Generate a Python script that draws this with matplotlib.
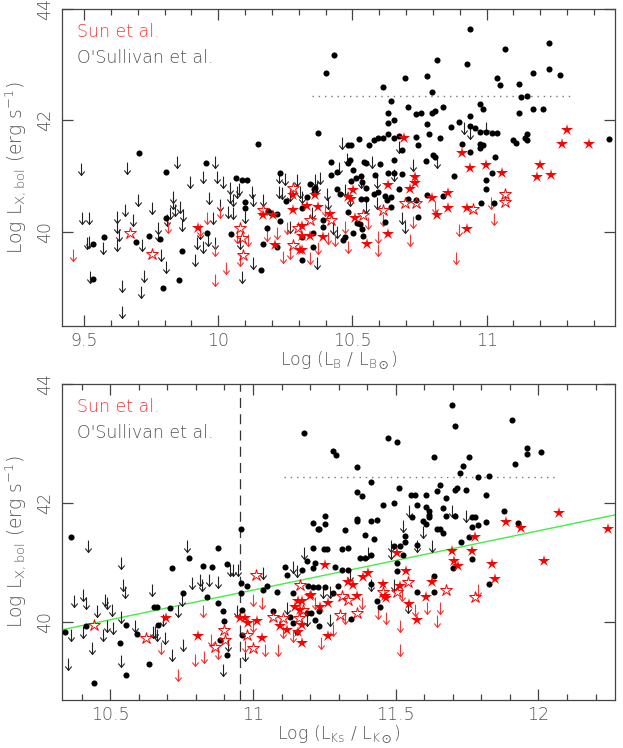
import matplotlib
matplotlib.use("Agg")
import matplotlib.pyplot as plt
from matplotlib.path import Path
from matplotlib.ticker import MultipleLocator, FormatStrFormatter
import numpy as np

# ---------------- data: top panel (Log L_B) ----------------
top_osul_det = [
 (9.704,41.42),(9.804,41.07),(9.955,41.24),(10.147,41.57),(10.23,41.05),(10.067,40.96),(10.106,40.93),
 (10.938,43.65),(10.431,43.17),(10.401,42.86),(11.069,43.29),(11.231,43.39),(10.815,43.09),(10.927,43.01),
 (10.694,42.77),(10.776,42.80),(10.614,42.60),(11.038,42.76),(11.048,42.63),(11.12,42.65),(11.171,42.85),
 (11.231,42.93),(11.272,42.82),(10.796,42.51),(11.129,42.43),(11.15,42.44),(10.645,42.35),(10.706,42.25),
 (10.633,42.14),(10.736,42.12),(10.755,42.14),(10.797,42.14),(10.806,42.17),(10.836,42.25),(10.977,42.30),
 (10.987,42.21),(11.12,42.14),(11.171,42.21),(11.21,42.21),(10.373,41.78),(10.633,41.96),(10.655,42.01),
 (10.776,41.94),(10.867,41.89),(10.898,41.97),(10.938,42.08),(10.938,41.90),(10.957,41.86),(10.977,41.80),
 (10.996,41.80),(11.019,41.77),(11.039,41.77),(11.15,41.76),(11.144,41.68),(11.098,41.64),(11.109,41.60),
 (11.151,41.64),(11.454,41.67),(10.786,41.75),(10.735,41.71),(10.632,41.76),(10.614,41.69),(10.655,41.69),
 (10.674,41.72),(10.594,41.69),(10.581,41.65),(10.523,41.66),(10.482,41.55),(10.493,41.55),(10.563,41.55),
 (10.745,41.56),(10.826,41.69),(10.908,41.57),(10.938,41.44),(10.977,41.58),(10.987,41.56),(10.977,41.50),
 (10.683,41.46),(10.80,41.38),(10.806,41.34),(10.775,41.27),(11.03,41.34),(10.655,41.29),(10.422,41.25),
 (10.49,41.28),(10.482,41.23),(10.542,41.25),(10.55,41.23),(10.604,41.22),(10.441,41.07),(10.421,41.01),
 (10.503,41.11),(10.584,41.02),(10.633,41.06),(10.655,41.06),(10.686,41.03),(10.877,41.0),(11.019,41.06),
 (10.533,41.0),(10.513,40.97),
 (10.674,40.76),(10.329,40.63),(10.357,40.77),(10.355,40.69),(10.441,40.77),(10.453,40.67),(10.493,40.91),
 (10.536,40.90),(10.552,40.79),(10.581,40.67),(10.594,40.72),(10.533,40.59),(10.552,40.59),(10.482,40.35),
 (10.623,40.64),(10.644,40.63),(10.627,40.57),(10.644,40.44),(10.623,40.18),(10.706,40.58),(10.735,40.56),
 (10.745,40.27),(10.776,40.66),(10.836,40.64),(10.979,40.51),(10.996,40.77),(10.998,40.93),(11.028,40.51),
 (10.391,40.21),(10.391,40.08),(10.352,39.73),(10.311,39.49),(10.311,39.90),(10.463,39.85),(10.472,39.90),
 (10.503,39.98),(10.518,40.16),(10.528,40.13),(10.534,40.05),(10.54,39.92),
 (10.087,40.92),(10.1,40.54),(10.1,40.42),(10.186,40.37),(10.196,40.33),(10.218,40.31),(10.23,40.19),
 (10.251,40.55),(10.342,40.85),(10.36,40.78),(10.311,40.42),(10.354,39.98),(10.218,39.73),(10.168,39.78),
 (10.18,40.07),(10.159,39.30),(10.047,39.95),(9.957,39.97),(9.864,39.65),(9.855,39.13),(9.794,38.99),
 (9.804,40.24),(9.784,39.86),(9.743,39.92),(9.694,39.81),(9.573,39.90),(9.532,39.77),(9.532,39.14)]

top_osul_ul = [
 (9.49,41.12),(9.661,41.14),(9.845,41.26),(9.988,41.25),(9.895,40.90),(9.944,40.98),(9.996,40.98),
 (10.019,40.90),(10.043,40.78),(10.069,40.72),(10.078,40.76),(10.124,40.72),(9.967,40.60),(10.043,40.63),
 (10.056,40.57),(10.006,40.48),(10.035,40.36),(10.056,40.33),(10.1,40.27),(10.131,40.57),(10.168,40.57),
 (9.981,40.24),(10.227,40.99),(10.227,40.72),(10.236,40.69),(10.249,40.94),(10.267,40.66),(10.292,40.93),
 (10.304,40.72),(10.367,40.81),(10.367,39.43),(10.267,40.09),(10.131,39.43),(10.09,39.19),(10.081,39.79),
 (9.932,39.97),(9.92,39.79),(9.913,39.49),(9.944,39.73),(9.963,39.85),(9.988,39.79),(9.867,40.30),
 (9.864,40.12),(9.833,40.63),(9.833,40.51),(9.839,40.39),(9.82,40.33),(9.857,40.45),(9.811,40.21),
 (9.777,40.06),(9.777,39.94),(9.787,39.58),(9.804,39.37),(9.754,40.42),(9.701,40.57),(9.684,40.21),
 (9.715,39.76),(9.724,39.20),(9.713,38.92),(9.643,39.02),(9.643,38.56),(9.622,40.27),(9.622,40.09),
 (9.622,39.76),(9.631,39.94),(9.654,40.39),(9.491,40.24),(9.52,40.24),(9.512,39.79),(9.52,39.82),
 (9.522,39.19),(9.572,39.70),
 (10.462,41.59),(10.916,41.87),(10.938,41.77),(10.999,41.87),(10.672,41.53),(10.573,41.26),(10.814,41.25),
 (10.724,41.19),(10.45,41.15),(10.478,41.31),(10.379,40.96),(10.36,40.93),(10.655,41.02),(10.592,40.90),
 (10.532,40.90),(10.404,40.67),(10.41,40.51),(10.472,40.75),(10.49,40.57),(10.552,40.45),(10.592,40.51),
 (10.683,40.24),(10.695,40.08),(10.428,40.06),(10.441,40.0),(10.311,40.63),(10.35,40.33)]

top_sun_det = [
 (10.693,41.68),(10.908,41.42),(10.938,41.15),(10.997,41.20),(11.057,41.05),(11.198,41.20),(11.188,40.99),
 (11.24,41.01),(11.281,41.58),(11.301,41.82),(11.382,41.57),(10.734,40.99),(10.734,40.87),(10.633,40.84),
 (10.714,40.76),(10.503,40.75),(10.484,40.63),(10.493,40.59),(10.36,40.66),(10.37,40.45),(10.329,40.46),
 (10.416,40.32),(10.509,40.24),(10.795,40.61),(10.814,40.30),(10.857,40.69),(10.857,40.43),(10.925,40.43),
 (10.928,40.05),(10.633,39.95),(10.553,39.78),(10.391,39.90),(10.342,39.92),(10.311,39.92),(10.311,40.10),
 (10.311,39.67),(9.926,40.07),(10.168,40.30),(10.205,40.30),(10.28,40.39),(10.28,40.66),(10.211,39.76),
 (10.304,39.67)]

top_sun_open = [
 (9.671,39.98),(9.753,39.59),(10.081,40.06),(10.087,39.88),(10.093,39.58),(10.168,40.39),(10.28,40.78),
 (10.28,39.76),(10.298,40.06),(10.342,40.21),(10.422,40.21),(10.54,40.30),(10.615,40.39),(10.695,40.51),
 (10.736,40.51),(10.948,40.41),(11.07,40.67),(11.07,40.54)]

top_sun_ul = [
 (9.46,39.58),(9.814,40.09),(9.932,40.03),(9.957,40.24),(9.988,39.67),(10.006,40.36),(10.029,39.35),
 (9.988,39.13),(10.069,39.91),(10.112,39.85),(10.18,39.94),(10.218,39.97),(10.24,39.55),(10.255,40.06),
 (10.267,39.61),(10.342,39.52),(10.081,39.49),(10.373,39.70),(10.41,39.88),(10.435,39.85),(10.484,39.73),
 (10.559,40.15),(10.597,39.91),(10.597,39.67),(10.615,40.21),(10.714,39.85),(10.726,40.18),(10.807,40.45),
 (10.898,40.03),(10.886,39.52),(11.028,40.22),(11.018,40.51),(10.398,40.39),(10.472,40.09)]

# ---------------- data: bottom panel (Log L_Ks) ----------------
bot_osul_det = [
 (10.363,41.43),(10.878,41.24),(10.959,41.57),(11.18,43.18),(11.211,41.66),(11.229,41.57),(11.211,41.25),
 (10.777,41.08),(11.696,43.65),(11.706,43.30),(11.908,43.40),(11.474,43.10),(11.504,43.03),(11.281,42.87),
 (11.29,42.81),(11.363,42.61),(11.635,42.78),(11.756,42.77),(11.737,42.63),(11.726,42.51),(11.96,42.93),
 (11.96,42.83),(12.01,42.86),(11.919,42.66),(11.788,42.44),(11.827,42.45),(11.413,42.36),(11.363,42.18),
 (11.383,42.12),(11.513,42.26),(11.553,42.14),(11.567,42.14),(11.606,42.14),(11.655,42.30),(11.646,42.20),
 (11.676,42.08),(11.706,42.22),(11.715,42.25),(11.747,42.22),(11.818,42.14),(11.879,41.86),(11.929,41.67),
 (11.494,42.0),(11.455,41.96),(11.575,41.97),(11.606,41.94),(11.615,41.86),(11.615,41.80),(11.615,41.76),
 (11.666,41.92),(11.676,41.79),(11.706,41.79),(11.556,41.76),(11.595,41.69),(11.606,41.65),(11.767,41.77),
 (11.778,41.77),(11.767,41.60),(11.787,41.63),(11.818,41.68),(11.643,41.56),(11.655,41.56),(11.666,41.49),
 (11.758,41.43),(11.727,41.34),(11.768,41.06),(11.533,41.44),(11.533,41.34),(11.575,41.29),(11.495,41.27),
 (11.514,41.27),(11.524,41.12),(11.394,41.46),(11.424,41.39),(11.363,41.73),(11.363,41.69),(11.413,41.69),
 (11.434,41.71),(11.323,41.55),(11.251,41.78),(11.251,41.65),(11.232,41.56),(11.25,41.23),(11.26,41.23),
 (11.313,41.22),(11.333,41.24),(11.413,41.13),(11.375,41.08),(11.394,41.08),
 (11.827,40.64),(11.635,40.77),(11.635,40.50),(11.575,40.51),(11.503,40.85),(11.503,40.99),(11.435,40.36),
 (11.445,40.26),(11.342,40.05),(11.231,40.18),(11.231,39.94),(11.188,40.15),(11.299,40.60),(11.211,40.59),
 (11.229,40.59),(11.252,40.59),(11.17,40.88),(11.217,40.99),(11.287,40.93),(11.311,40.88),(11.334,40.88),
 (11.281,40.49),(11.412,40.64),(11.702,40.91),
 (10.342,39.84),(10.414,39.93),(10.444,38.97),(10.555,39.11),(10.535,39.65),(10.555,39.95),(10.595,39.80),
 (10.637,39.29),(10.653,40.26),(10.665,40.26),(10.668,39.95),(10.709,40.24),(10.715,40.91),(10.826,40.95),
 (10.855,40.93),(10.878,40.32),(10.838,40.42),(10.756,40.49),(10.91,40.98),(10.894,40.18),(10.898,40.01),
 (10.884,39.70),(10.908,39.45),(10.957,40.66),(10.957,40.49),(10.96,40.21),(10.96,39.79),(10.978,40.60),
 (11.036,40.54),(11.048,40.60),(11.083,40.51),(11.112,40.93),(11.12,40.79),(11.141,40.49),(11.194,40.60),
 (11.188,41.02),(11.211,40.91),(11.13,40.09),(11.141,39.98),(11.205,40.15),(11.217,40.04),(11.153,39.84),
 (11.071,40.18)]

bot_osul_ul = [
 (10.423,41.27),(10.768,41.27),(11.18,41.16),(11.404,41.16),(11.483,41.27),(11.483,41.16),(11.524,41.61),
 (11.546,41.86),(11.596,41.52),(11.627,41.27),(11.575,41.27),(11.696,41.86),(11.747,41.79),
 (10.373,40.36),(10.406,40.46),(10.415,40.32),(10.363,39.79),(10.353,39.29),(10.406,39.83),(10.435,39.56),
 (10.452,40.18),(10.482,40.37),(10.488,40.32),(10.474,39.79),(10.488,39.93),(10.505,40.21),(10.51,39.90),
 (10.537,40.09),(10.537,39.34),(10.537,40.99),(10.546,40.63),(10.552,40.51),(10.587,39.93),(10.645,40.54),
 (10.649,39.84),(10.657,39.84),(10.663,39.79),(10.684,40.04),(10.692,39.73),(10.715,39.45),(10.738,40.18),
 (10.75,40.37),(10.756,39.62),(10.785,40.66),(10.814,40.71),(10.82,40.63),(10.847,40.71),(10.878,40.68),
 (10.919,40.88),(10.931,40.88),(10.948,40.88),(10.896,39.20),(10.913,39.62),(10.943,40.18),(10.972,39.45),
 (11.036,40.82),(11.118,40.24),(11.141,40.93),(11.153,40.85),
 (11.19,40.04),(11.246,40.51),(11.27,40.51),(11.27,40.04),(11.34,40.79),(11.412,40.63),(11.495,40.63),
 (11.544,40.26)]

bot_sun_det = [
 (11.503,41.16),(11.696,41.19),(11.768,41.19),(11.777,41.43),(11.888,41.68),(11.939,41.58),(12.071,41.83),
 (12.242,41.57),(11.705,41.03),(12.02,41.02),
 (11.717,40.95),(11.838,40.97),(11.849,40.72),(11.626,40.68),(11.605,40.42),(11.545,40.31),(11.573,40.04),
 (11.536,40.85),(11.515,40.60),(11.454,40.64),(11.462,40.43),(11.466,40.40),(11.404,40.82),(11.384,40.76),
 (11.351,40.63),(11.334,40.68),(11.363,40.44),(11.264,40.32),(11.235,40.26),(11.2,40.43),(11.171,40.35),
 (11.171,39.95),(11.171,39.65),(11.264,39.77),(11.252,40.96),
 (10.694,40.06),(10.808,39.76),(10.954,40.07),(10.972,40.07),(10.984,39.98),(11.03,39.73),(11.095,39.93),
 (11.118,39.87),(11.147,40.26),(11.159,40.35),(11.165,40.21),(11.159,39.84),(11.205,40.46),(11.013,40.01)]

bot_sun_open = [
 (10.444,39.95),(10.624,39.74),(10.867,39.58),(10.898,39.87),(10.903,39.69),(11.01,40.79),(10.978,39.79),
 (11.001,39.56),(11.071,40.09),(11.104,40.07),(11.165,40.63),(11.162,40.07),(11.311,40.43),(11.334,40.37),
 (11.363,40.15),(11.305,40.12),(11.456,40.51),(11.503,40.51),(11.544,40.67),(11.675,40.53),(11.777,40.42),
 (11.176,40.21)]

bot_sun_ul = [
 (10.678,39.56),(10.738,39.11),(10.797,39.37),(10.828,39.42),(10.826,40.18),(10.852,39.70),(10.878,39.48),
 (10.972,39.59),(11.001,40.37),(11.03,40.32),(11.042,39.53),(11.089,39.53),(11.106,39.84),(11.141,39.76),
 (11.001,39.93),(11.515,39.53),(11.515,39.93),(11.439,40.15),(11.466,40.07),(11.608,40.24),(11.655,40.24),
 (11.646,40.01),(11.567,40.21),(11.521,40.46),(11.381,40.32),(11.322,40.07),(11.279,39.87),(11.24,39.65),
 (11.217,40.32),(11.789,40.54)]

# reference lines
top_xlim = (9.418, 11.478); top_ylim = (38.30, 44.0)
bot_xlim = (10.331, 12.268); bot_ylim = (38.69, 44.0)
top_hline = (10.35, 11.32, 42.44)
bot_hline = (11.11, 12.06, 42.44)
bot_vline = 10.955
fit_x = [10.331, 12.268]
fit_y = [39.87, 41.80]

# ---------------- plotting ----------------
TXT = '#555555'
SPINE = '#444444'
RED = '#ff0000'
plt.rcParams['font.family'] = ['DejaVu Sans']
plt.rcParams['font.weight'] = 'light'
plt.rcParams['axes.labelweight'] = 'light'
plt.rcParams['mathtext.fontset'] = 'custom'
plt.rcParams['mathtext.rm'] = 'DejaVu Sans:light'
plt.rcParams['mathtext.it'] = 'DejaVu Sans:light'
plt.rcParams['mathtext.bf'] = 'DejaVu Sans:light'
plt.rcParams['mathtext.default'] = 'regular'

arrow = Path([(0, 0.5), (0, -0.5), (-0.27, -0.17), (0, -0.5), (0.27, -0.17)],
             [Path.MOVETO, Path.LINETO, Path.MOVETO, Path.LINETO, Path.LINETO])

fig = plt.figure(figsize=(6.23, 7.48), dpi=100)
ax1 = fig.add_axes([0.0995, 0.5642, 0.8876, 0.4234])
ax2 = fig.add_axes([0.0995, 0.0642, 0.8876, 0.4224])

def xy(lst):
    a = np.array(lst)
    return a[:, 0], a[:, 1]

def draw(ax, det, ul, sdet, sopen, sul):
    x, y = xy(ul)
    ax.plot(x, y, ls='none', marker=arrow, ms=8.5, mfc='none', mec='#222222', mew=0.8, zorder=3)
    x, y = xy(sul)
    ax.plot(x, y, ls='none', marker=arrow, ms=8.5, mfc='none', mec='#ff3030', mew=0.8, zorder=3)
    x, y = xy(det)
    ax.plot(x, y, ls='none', marker='o', ms=4.4, mfc='black', mec='black', mew=0, zorder=4)
    x, y = xy(sopen)
    ax.plot(x, y, ls='none', marker='*', ms=9, mfc='none', mec=RED, mew=0.7, zorder=5)
    x, y = xy(sdet)
    ax.plot(x, y, ls='none', marker='*', ms=9, mfc=RED, mec=RED, mew=0, zorder=5)

def style(ax, xlim, ylim, xlabel):
    ax.set_xlim(*xlim); ax.set_ylim(*ylim)
    ax.xaxis.set_major_locator(MultipleLocator(0.5))
    ax.xaxis.set_minor_locator(MultipleLocator(0.1))
    ax.xaxis.set_major_formatter(FormatStrFormatter('%g'))
    ax.yaxis.set_major_locator(MultipleLocator(2))
    ax.yaxis.set_major_formatter(FormatStrFormatter('%g'))
    ax.tick_params(which='both', direction='in', top=True, right=True, color=SPINE,
                   labelcolor=TXT, labelsize=12.5, width=0.9)
    ax.tick_params(which='major', length=8)
    ax.tick_params(axis='x', which='major', pad=4)
    ax.tick_params(axis='y', which='major', pad=6)
    ax.tick_params(which='minor', length=4.5)
    for lab in ax.get_yticklabels():
        lab.set_rotation(90); lab.set_va('center')
    for s in ax.spines.values():
        s.set_color(SPINE); s.set_linewidth(0.9)
    ax.set_xlabel(xlabel, color=TXT, fontsize=12.5, labelpad=0, fontweight='light')
    ax.set_ylabel(r'Log L$_{X,bol}$ (erg s$^{-1}$)', color=TXT, fontsize=13.5, labelpad=5,
                  fontweight='light')
    ax.text(0.027, 0.927, 'Sun et al.', color='#ff3333', fontsize=12.5, transform=ax.transAxes,
            va='center', ha='left')
    ax.text(0.027, 0.845, "O'Sullivan et al.", color=TXT, fontsize=12.5, transform=ax.transAxes,
            va='center', ha='left')

draw(ax1, top_osul_det, top_osul_ul, top_sun_det, top_sun_open, top_sun_ul)
ax1.plot([top_hline[0], top_hline[1]], [top_hline[2]] * 2, color='#777777', lw=1, ls=(0, (1, 3.5)))
style(ax1, top_xlim, top_ylim, r'Log (L$_{B}$ / L$_{B\odot}$)')

draw(ax2, bot_osul_det, bot_osul_ul, bot_sun_det, bot_sun_open, bot_sun_ul)
ax2.plot([bot_hline[0], bot_hline[1]], [bot_hline[2]] * 2, color='#777777', lw=1, ls=(0, (1, 3.5)))
ax2.axvline(bot_vline, color='#333333', lw=0.9, ls=(0, (8, 5)))
ax2.plot(fit_x, fit_y, color='#44ee44', lw=1, zorder=2)
style(ax2, bot_xlim, bot_ylim, r'Log (L$_{Ks}$ / L$_{K\odot}$)')

fig.savefig('out.png', dpi=100)
